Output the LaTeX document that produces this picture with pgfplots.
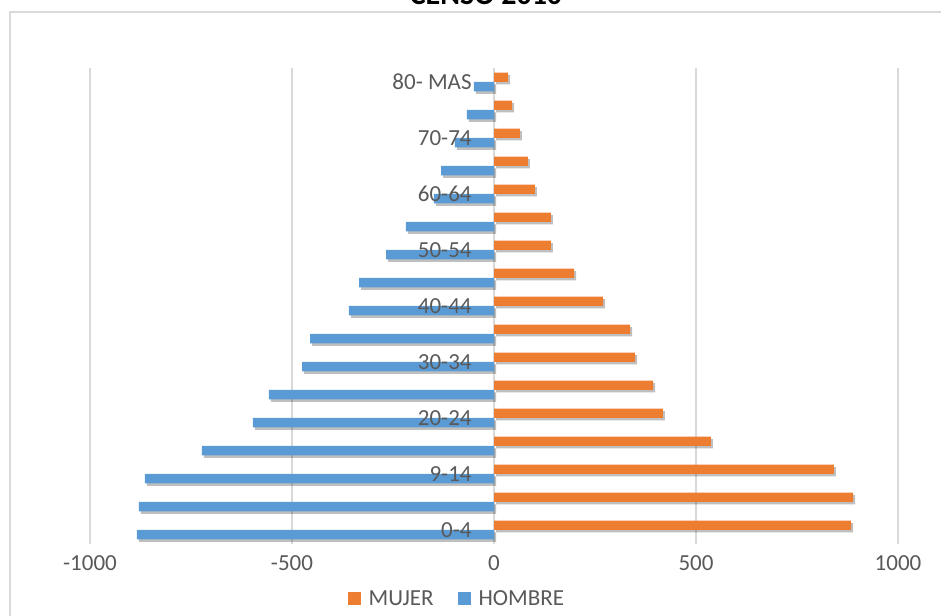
\documentclass[border=0pt]{standalone}
\usepackage{pgfplots}
\pgfplotsset{compat=1.18}
\usepackage{fontspec}
\setmainfont{Carlito}
\usetikzlibrary{shadows}

\definecolor{mujer}{RGB}{237,125,49}
\definecolor{hombre}{RGB}{91,155,213}
\definecolor{gridgray}{RGB}{217,217,217}
\definecolor{txtgray}{RGB}{89,89,89}

\begin{document}
\begin{tikzpicture}
\draw[gridgray, line width=1.5pt] (10pt,-20pt) rectangle (960pt,603pt);
\node[anchor=base, font=\fontsize{30}{36}\selectfont\bfseries] at (486pt,610pt) {CENSO 2010};
\begin{axis}[
  at={(90pt,71pt)}, anchor=south west,
  scale only axis, width=808pt, height=476pt,
  xmin=-1000, xmax=1000, ymin=-0.5, ymax=16.5,
  xbar, bar width=9.3pt,
  axis line style={draw=none},
  major tick length=0pt,
  xtick={-1000,-500,0,500,1000},
  xticklabels={-1000,-500,0,500,1000},
  ytick=\empty,
  xmajorgrids, grid style={gridgray, line width=1.5pt},
  tick label style={font=\fontsize{23}{28}\selectfont, text=txtgray},
  xticklabel style={yshift=-8pt},
  legend style={at={(axis description cs:0.454,-0.1155)}, anchor=center,
    draw=none, fill=none, legend columns=2, inner sep=0pt,
    font=\fontsize{23}{28}\selectfont, text=txtgray,
    /tikz/every even column/.append style={column sep=22pt}},
  legend image code/.code={\fill[#1] (0pt,-6.5pt) rectangle (13pt,6.5pt);
    \path (19pt,0pt);},
]
\addlegendimage{fill=mujer, draw=none}
\addlegendentry{MUJER}
\addlegendimage{fill=hombre, draw=none}
\addlegendentry{HOMBRE}

% HOMBRE (izquierda), de 0-4 a 80-MAS
\addplot[forget plot, fill=hombre, draw=none, bar shift=-4.65pt,
  drop shadow={shadow xshift=2pt, shadow yshift=-2.5pt, opacity=0.25, fill=black}]
coordinates {
(-884,0) (-879,1) (-864,2) (-723,3) (-597,4) (-557,5) (-475,6) (-455,7)
(-359,8) (-334,9) (-267,10) (-218,11) (-149,12) (-131,13) (-97,14) (-67,15) (-50,16)
};
% MUJER (derecha)
\addplot[forget plot, fill=mujer, draw=none, bar shift=4.65pt,
  drop shadow={shadow xshift=2pt, shadow yshift=-2.5pt, opacity=0.25, fill=black}]
coordinates {
(884,0) (889,1) (841,2) (537,3) (418,4) (394,5) (349,6) (337,7)
(270,8) (198,9) (141,10) (141,11) (101,12) (84,13) (64,14) (45,15) (35,16)
};

\begin{scope}[every node/.style={anchor=east, inner sep=0pt, text=txtgray,
    font=\fontsize{23}{28}\selectfont}]
\node at (axis cs:-55,0) {0-4};
\node at (axis cs:-55,2) {9-14};
\node at (axis cs:-55,4) {20-24};
\node at (axis cs:-55,6) {30-34};
\node at (axis cs:-55,8) {40-44};
\node at (axis cs:-55,10) {50-54};
\node at (axis cs:-55,12) {60-64};
\node at (axis cs:-55,14) {70-74};
\node at (axis cs:-55,16) {80- MAS};
\end{scope}
\end{axis}
\pgfresetboundingbox
\useasboundingbox (0,0) rectangle (941pt,615pt);
\end{tikzpicture}
\end{document}
